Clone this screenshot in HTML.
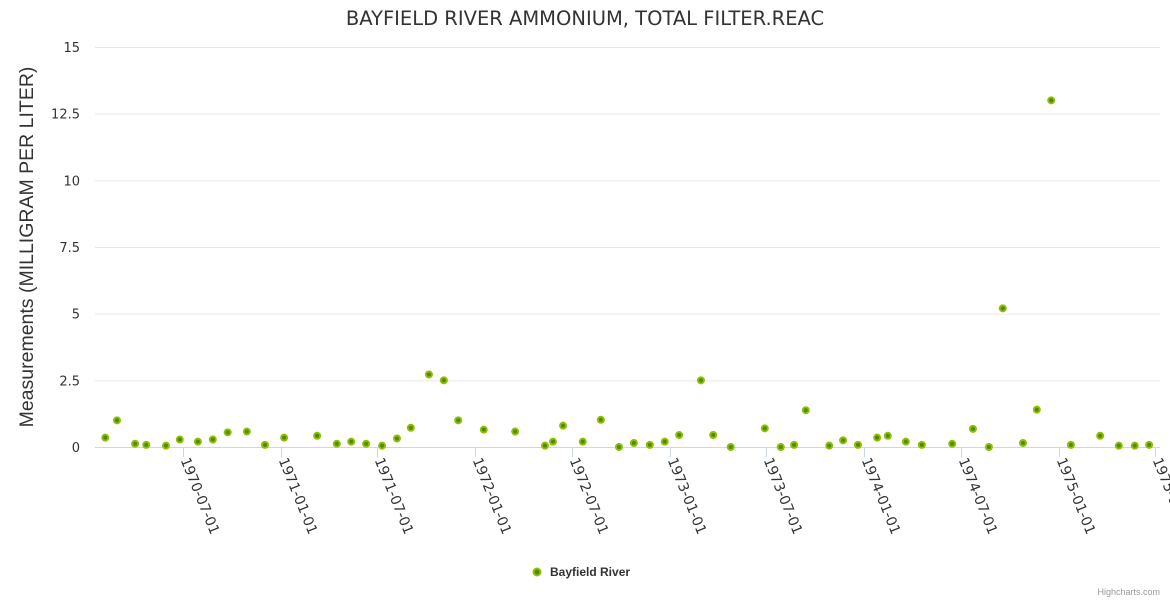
<!DOCTYPE html>
<html><head><meta charset="utf-8"><style>
body{margin:0;background:#fff;font-family:"Liberation Sans",Arial,sans-serif}
svg{display:block}
</style></head><body>
<svg id="chart" width="1170" height="600">
<text x="585" y="25" text-anchor="middle" font-size="19.5" fill="#333" font-family="DejaVu Sans, sans-serif">BAYFIELD RIVER AMMONIUM, TOTAL FILTER.REAC</text>
<text transform="translate(33,247) rotate(-90)" text-anchor="middle" font-size="19.5" fill="#333">Measurements (MILLIGRAM PER LITER)</text>
<g id="grid"></g><g id="xaxis"></g><g id="points"></g>
<g>
<circle cx="537" cy="572" r="3.5" fill="#4d8a00" stroke="#8fbf00" stroke-width="2"/>
<text x="550" y="576" font-size="12" font-weight="bold" fill="#333">Bayfield River</text>
</g>
<text x="1160" y="595" text-anchor="end" font-size="9" fill="#999">Highcharts.com</text>
</svg>
<script>
const dates=["1970-02-05","1970-02-27","1970-04-02","1970-04-23","1970-05-30","1970-06-25","1970-07-29","1970-08-26","1970-09-23","1970-10-29","1970-12-02","1971-01-07","1971-03-10","1971-04-16","1971-05-13","1971-06-10","1971-07-10","1971-08-07","1971-09-02","1971-10-06","1971-11-03","1971-11-30","1972-01-17","1972-03-16","1972-05-11","1972-05-26","1972-06-14","1972-07-21","1972-08-24","1972-09-27","1972-10-25","1972-11-24","1972-12-22","1973-01-18","1973-02-28","1973-03-23","1973-04-25","1973-06-28","1973-07-28","1973-08-22","1973-09-13","1973-10-27","1973-11-22","1973-12-20","1974-01-25","1974-02-14","1974-03-20","1974-04-19","1974-06-15","1974-07-24","1974-08-23","1974-09-18","1974-10-26","1974-11-21","1974-12-18","1975-01-24","1975-03-20","1975-04-24","1975-05-24","1975-06-20"];
const values=[0.35,1.0,0.12,0.08,0.05,0.28,0.2,0.28,0.55,0.58,0.08,0.35,0.42,0.12,0.2,0.12,0.05,0.32,0.72,2.72,2.5,1.0,0.65,0.58,0.05,0.2,0.8,0.2,1.02,0.0,0.15,0.08,0.2,0.45,2.5,0.45,0.0,0.7,0.0,0.08,1.38,0.05,0.25,0.08,0.35,0.42,0.2,0.08,0.12,0.68,0.0,5.2,0.15,1.4,13.0,0.08,0.42,0.05,0.05,0.08];
const yTicks=[0,2.5,5,7.5,10,12.5,15];
const yTickLabels=["0","2.5","5","7.5","10","12.5","15"];
const xTicks=["1970-07-01","1971-01-01","1971-07-01","1972-01-01","1972-07-01","1973-01-01","1973-07-01","1974-01-01","1974-07-01","1975-01-01","1975-07-01"];
const NS="http://www.w3.org/2000/svg";
const t0=Date.UTC(1970,6,1), pxPerDay=972/1826;
function X(d){const p=d.split("-");return 183+(Date.UTC(+p[0],p[1]-1,+p[2])-t0)/86400000*pxPerDay;}
function Y(v){return 447-v*400/15;}
function mk(tag,attrs,parent){const e=document.createElementNS(NS,tag);for(const k in attrs)e.setAttribute(k,attrs[k]);parent.appendChild(e);return e;}
const grid=document.getElementById("grid"),xa=document.getElementById("xaxis"),pts=document.getElementById("points");
yTicks.forEach((v,i)=>{
 if(v>0){const l=mk("line",{x1:95,x2:1160,y1:Y(v)+0.5,y2:Y(v)+0.5,stroke:"#e6e6e6"},grid);
 
 }
 const t=mk("text",{x:80,y:Y(v)+5,"text-anchor":"end","font-size":"13",fill:"#333","font-family":"DejaVu Sans, sans-serif"},grid);
 t.textContent=yTickLabels[i];
 
 
});
const ax=mk("line",{x1:95,x2:1160,y1:447.5,y2:447.5,stroke:"#ccd6eb"},xa);


xTicks.forEach(d=>{
 const x=Math.round(X(d))+0.5;
 const tk=mk("line",{x1:x,x2:x,y1:447,y2:457,stroke:"#ccd6eb"},xa);
 
 
 const t=mk("text",{transform:`translate(${x-3},460) rotate(68)`,"font-size":"14",fill:"#333","font-family":"DejaVu Sans, sans-serif"},xa);
 t.textContent=d;
 
 
});
dates.forEach((d,i)=>{
 const c=mk("circle",{cx:X(d),cy:Y(values[i]),r:3,fill:"#4d8a00",stroke:"#8fbf00","stroke-width":2},pts);
 
 
});
</script>
</body></html>
